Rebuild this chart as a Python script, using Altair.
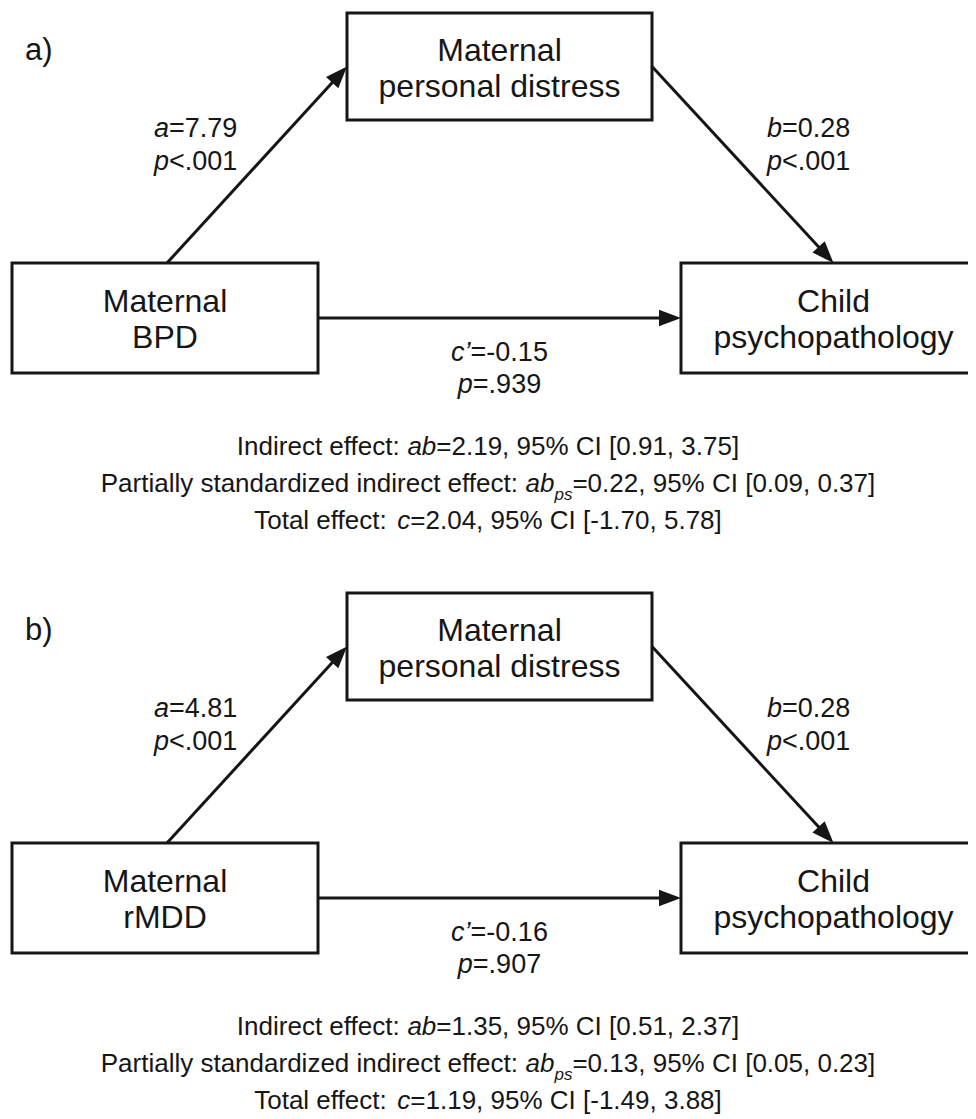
import math
import altair as alt
import pandas as pd

# ---------------- data ----------------
PANEL_TAGS = ["a)", "b)"]
PREDICTORS = ["BPD", "rMDD"]
MEDIATOR_LINES = ["Maternal", "personal distress"]
OUTCOME_LINES = ["Child", "psychopathology"]
A_COEF = ["7.79", "4.81"]
A_P = ["<.001", "<.001"]
B_COEF = ["0.28", "0.28"]
B_P = ["<.001", "<.001"]
C_PRIME = ["-0.15", "-0.16"]
C_PRIME_P = [".939", ".907"]
AB = ["2.19", "1.35"]
AB_CI_LO = ["0.91", "0.51"]
AB_CI_HI = ["3.75", "2.37"]
AB_PS = ["0.22", "0.13"]
AB_PS_CI_LO = ["0.09", "0.05"]
AB_PS_CI_HI = ["0.37", "0.23"]
C_TOTAL = ["2.04", "1.19"]
C_TOTAL_CI_LO = ["-1.70", "-1.49"]
C_TOTAL_CI_HI = ["5.78", "3.88"]

# ---------------- layout (pixel space of the figure) ----------------
FONT = "Liberation Sans"
INK = "#161616"
PANEL_DY = 580
MED_BOX = (347, 652, 13, 120)
PRED_BOX = (12, 318, 263, 373)
OUT_BOX = (681, 986, 263, 373)
NODE_SIZE = 32
EDGE_SIZE = 27
NOTE_SIZE = 26
SUB_SIZE = 17
SUB_DY = 8
HEAD_LEN = 22

# Arial / Liberation Sans advance widths (1/1000 em)
W = {" ": 278, "%": 889, "’": 222, "(": 333, ")": 333, ",": 278, "-": 333,
     ".": 278, ":": 278, "<": 584, "=": 584, "[": 278, "]": 278,
     "A": 667, "B": 667, "C": 722, "D": 722, "I": 278, "M": 833, "P": 667, "T": 611,
     "a": 556, "b": 556, "c": 500, "d": 556, "e": 556, "f": 278, "g": 556, "h": 556,
     "i": 222, "l": 222, "n": 556, "o": 556, "p": 556, "r": 333, "s": 500, "t": 278,
     "y": 500, "z": 500, "x": 500, "v": 500, "u": 556, "m": 833, "k": 500}


def tw(s, size):
    return sum(W.get(ch, 556) for ch in s) * size / 1000.0


texts = []


def place(runs, x, y, size, align="left"):
    def sz(st):
        return SUB_SIZE if st == "sub" else size
    total = sum(tw(t, sz(st)) for t, st in runs)
    cx = x - total / 2 if align == "center" else x
    for t, st in runs:
        s = sz(st)
        texts.append(dict(x=cx, y=y + (SUB_DY if st == "sub" else 0), text=t,
                          italic=(st != "n"), size=s))
        cx += tw(t, s)


boxes, shafts, heads = [], [], []


def arrow(x0, y0, x1, y1):
    dx, dy = x1 - x0, y1 - y0
    L = math.hypot(dx, dy)
    ux, uy = dx / L, dy / L
    shafts.append(dict(x=x0, y=y0, x2=x1 - ux * (HEAD_LEN - 4), y2=y1 - uy * (HEAD_LEN - 4)))
    ang = math.degrees(math.atan2(dx, -dy)) % 360
    heads.append(dict(x=x1, y=y1, angle=ang))


for i in range(2):
    off = i * PANEL_DY
    med = (MED_BOX[0], MED_BOX[1], MED_BOX[2] + off, MED_BOX[3] + off)
    pred = (PRED_BOX[0], PRED_BOX[1], PRED_BOX[2] + off, PRED_BOX[3] + off)
    out = (OUT_BOX[0], OUT_BOX[1], OUT_BOX[2] + off, OUT_BOX[3] + off)
    for bx, lines in ((med, MEDIATOR_LINES), (pred, ["Maternal", PREDICTORS[i]]), (out, OUTCOME_LINES)):
        boxes.append(dict(x=bx[0], x2=bx[1], y=bx[2], y2=bx[3]))
        cx = (bx[0] + bx[1]) / 2
        cy = (bx[2] + bx[3]) / 2
        place([(lines[0], "n")], cx, cy - 6, NODE_SIZE, "center")
        place([(lines[1], "n")], cx, cy + 30, NODE_SIZE, "center")

    med_cy = (med[2] + med[3]) / 2
    row_cy = (pred[2] + pred[3]) / 2
    arrow((pred[0] + pred[1]) / 2 + 2, pred[2], med[0], med_cy)
    arrow(med[1], med_cy, (out[0] + out[1]) / 2, out[2])
    arrow(pred[1], row_cy, out[0], row_cy)

    place([(PANEL_TAGS[i], "n")], 25, 60 + off, 31)
    place([("a", "i"), ("=" + A_COEF[i], "n")], 154, 137 + off, EDGE_SIZE)
    place([("p", "i"), (A_P[i], "n")], 154, 170 + off, EDGE_SIZE)
    place([("b", "i"), ("=" + B_COEF[i], "n")], 767, 137 + off, EDGE_SIZE)
    place([("p", "i"), (B_P[i], "n")], 767, 170 + off, EDGE_SIZE)
    mid = (pred[1] + out[0]) / 2
    place([("c’", "i"), ("=" + C_PRIME[i], "n")], mid, 361 + off, EDGE_SIZE, "center")
    place([("p", "i"), ("=" + C_PRIME_P[i], "n")], mid, 393 + off, EDGE_SIZE, "center")

    place([("Indirect effect: ", "n"), ("ab", "i"),
           (f"={AB[i]}, 95% CI [{AB_CI_LO[i]}, {AB_CI_HI[i]}]", "n")],
          488, 455 + off, NOTE_SIZE, "center")
    place([("Partially standardized indirect effect: ", "n"), ("ab", "i"), ("ps", "sub"),
           (f"={AB_PS[i]}, 95% CI [{AB_PS_CI_LO[i]}, {AB_PS_CI_HI[i]}]", "n")],
          488, 492 + off, NOTE_SIZE, "center")
    place([("Total effect: ", "n"), ("c", "i"),
           (f"={C_TOTAL[i]}, 95% CI [{C_TOTAL_CI_LO[i]}, {C_TOTAL_CI_HI[i]}]", "n")],
          488, 529 + off, NOTE_SIZE, "center")

# ---------------- chart ----------------
XS = alt.Scale(domain=[8, 968], zero=False, nice=False)
YS = alt.Scale(domain=[8, 1119], zero=False, nice=False, reverse=True)


def X(f="x"):
    return alt.X(f + ":Q", scale=XS, axis=None)


def Y(f="y"):
    return alt.Y(f + ":Q", scale=YS, axis=None)


box_layer = alt.Chart(pd.DataFrame(boxes)).mark_rect(
    fill="white", stroke=INK, strokeWidth=3
).encode(x=X(), x2="x2:Q", y=Y(), y2="y2:Q")

shaft_layer = alt.Chart(pd.DataFrame(shafts)).mark_rule(
    color=INK, strokeWidth=3
).encode(x=X(), x2="x2:Q", y=Y(), y2="y2:Q")

head_layer = alt.Chart(pd.DataFrame(heads)).mark_point(
    shape="M0,0L-0.38,1L0.38,1Z", filled=True, size=HEAD_LEN * HEAD_LEN * 4,
    color=INK, opacity=1, strokeWidth=0
).encode(x=X(), y=Y(), angle=alt.Angle("angle:Q", scale=None))

tdf = pd.DataFrame(texts)


def text_layer(df, style):
    return alt.Chart(df).mark_text(
        align="left", baseline="alphabetic", font=FONT, fontStyle=style, color=INK
    ).encode(x=X(), y=Y(), text="text:N", size=alt.Size("size:Q", scale=None))


normal = text_layer(tdf[~tdf.italic], "normal")
italic = text_layer(tdf[tdf.italic], "italic")

chart = alt.layer(box_layer, shaft_layer, head_layer, normal, italic).properties(
    width=960, height=1111, padding=0,
    autosize=alt.AutoSizeParams(type="none")
).configure_view(stroke=None)

chart.save("out.html", embed_options={"renderer": "svg", "actions": False})
